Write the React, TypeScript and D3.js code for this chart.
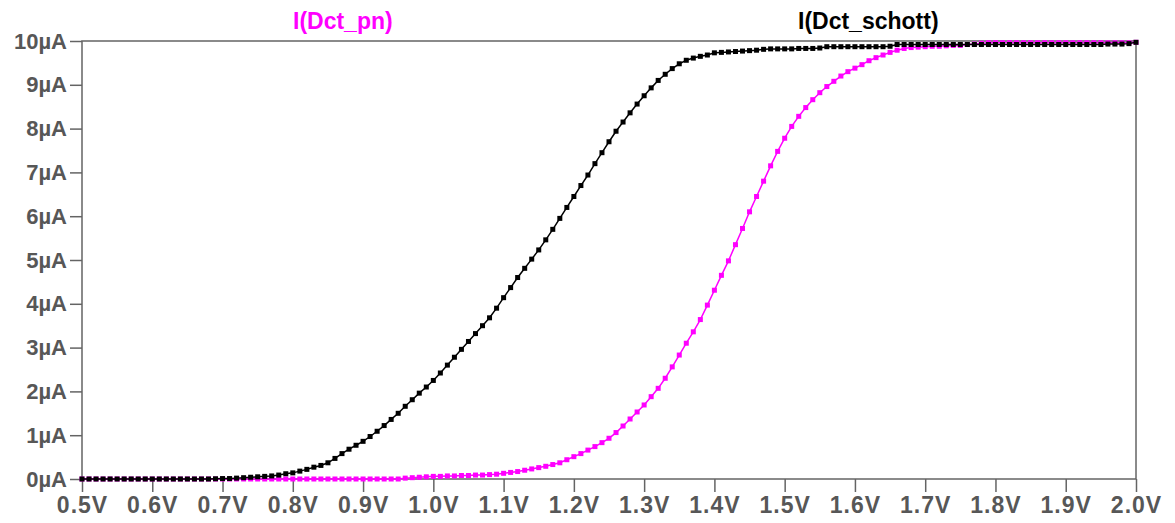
import React, { useEffect, useRef } from 'react';
import * as d3 from 'd3';

// sweep voltage (V)
const volts = [
  0.50, 0.51, 0.52, 0.53, 0.54, 0.55, 0.56, 0.57, 0.58, 0.59,
  0.60, 0.61, 0.62, 0.63, 0.64, 0.65, 0.66, 0.67, 0.68, 0.69,
  0.70, 0.71, 0.72, 0.73, 0.74, 0.75, 0.76, 0.77, 0.78, 0.79,
  0.80, 0.81, 0.82, 0.83, 0.84, 0.85, 0.86, 0.87, 0.88, 0.89,
  0.90, 0.91, 0.92, 0.93, 0.94, 0.95, 0.96, 0.97, 0.98, 0.99,
  1.00, 1.01, 1.02, 1.03, 1.04, 1.05, 1.06, 1.07, 1.08, 1.09,
  1.10, 1.11, 1.12, 1.13, 1.14, 1.15, 1.16, 1.17, 1.18, 1.19,
  1.20, 1.21, 1.22, 1.23, 1.24, 1.25, 1.26, 1.27, 1.28, 1.29,
  1.30, 1.31, 1.32, 1.33, 1.34, 1.35, 1.36, 1.37, 1.38, 1.39,
  1.40, 1.41, 1.42, 1.43, 1.44, 1.45, 1.46, 1.47, 1.48, 1.49,
  1.50, 1.51, 1.52, 1.53, 1.54, 1.55, 1.56, 1.57, 1.58, 1.59,
  1.60, 1.61, 1.62, 1.63, 1.64, 1.65, 1.66, 1.67, 1.68, 1.69,
  1.70, 1.71, 1.72, 1.73, 1.74, 1.75, 1.76, 1.77, 1.78, 1.79,
  1.80, 1.81, 1.82, 1.83, 1.84, 1.85, 1.86, 1.87, 1.88, 1.89,
  1.90, 1.91, 1.92, 1.93, 1.94, 1.95, 1.96, 1.97, 1.98, 1.99,
  2.00,
];

// I(Dct_schott) in µA
const schott = [
  0, 0, 0, 0, 0, 0, 0, 0, 0, 0,
  0, 0, 0, 0, 0, 0, 0, 0, 0, 0.005,
  0.01, 0.01, 0.02, 0.03, 0.04, 0.05, 0.06, 0.07, 0.09, 0.12,
  0.14, 0.18, 0.22, 0.27, 0.31, 0.37, 0.47, 0.58, 0.68, 0.77,
  0.86, 0.97, 1.09, 1.22, 1.36, 1.5, 1.66, 1.81, 1.96, 2.1,
  2.25, 2.42, 2.6, 2.78, 2.96, 3.14, 3.32, 3.5, 3.68, 3.9,
  4.14, 4.37, 4.6, 4.81, 5.02, 5.23, 5.46, 5.7, 5.95, 6.2,
  6.45, 6.7, 6.94, 7.2, 7.45, 7.7, 7.94, 8.15, 8.36, 8.56,
  8.75, 8.93, 9.1, 9.24, 9.37, 9.48, 9.56, 9.61, 9.65, 9.68,
  9.73, 9.74, 9.75, 9.76, 9.77, 9.78, 9.79, 9.81, 9.82, 9.82,
  9.82, 9.82, 9.83, 9.83, 9.83, 9.84, 9.87, 9.87, 9.87, 9.87,
  9.87, 9.87, 9.87, 9.87, 9.87, 9.88, 9.92, 9.92, 9.92, 9.92,
  9.92, 9.92, 9.92, 9.92, 9.92, 9.92, 9.92, 9.92, 9.92, 9.92,
  9.92, 9.92, 9.92, 9.92, 9.92, 9.92, 9.92, 9.92, 9.92, 9.92,
  9.92, 9.92, 9.92, 9.92, 9.92, 9.92, 9.93, 9.93, 9.93, 9.94,
  9.97,
];

// I(Dct_pn) in µA
const pn = [
  0, 0, 0, 0, 0, 0, 0, 0, 0, 0,
  0, 0, 0, 0, 0, 0, 0, 0, 0, 0,
  0, 0, 0, 0, 0, 0, 0, 0, 0, 0,
  0, 0, 0, 0, 0, 0, 0, 0, 0, 0,
  0, 0, 0, 0, 0, 0, 0.02, 0.03, 0.04, 0.05,
  0.06, 0.06, 0.07, 0.07, 0.08, 0.08, 0.09, 0.09, 0.1, 0.11,
  0.13, 0.15, 0.17, 0.2, 0.23, 0.26, 0.29, 0.33, 0.37, 0.44,
  0.51, 0.58, 0.66, 0.74, 0.83, 0.93, 1.06, 1.21, 1.37, 1.53,
  1.69, 1.88, 2.07, 2.3, 2.56, 2.83, 3.1, 3.36, 3.64, 3.97,
  4.31, 4.65, 4.98, 5.35, 5.72, 6.1, 6.45, 6.8, 7.15, 7.48,
  7.78, 8.05, 8.28, 8.48, 8.66, 8.82, 8.96, 9.08, 9.2, 9.3,
  9.38, 9.46, 9.55, 9.62, 9.68, 9.74, 9.79, 9.83, 9.85, 9.86,
  9.87, 9.88, 9.88, 9.89, 9.9, 9.9, 9.92, 9.93, 9.95, 9.96,
  9.96, 9.96, 9.96, 9.96, 9.96, 9.96, 9.96, 9.96, 9.96, 9.96,
  9.96, 9.96, 9.96, 9.96, 9.96, 9.96, 9.96, 9.96, 9.96, 9.96,
  9.97,
];

const xTicks = [0.5, 0.6, 0.7, 0.8, 0.9, 1.0, 1.1, 1.2, 1.3, 1.4, 1.5, 1.6, 1.7, 1.8, 1.9, 2.0];
const yTicks = [0, 1, 2, 3, 4, 5, 6, 7, 8, 9, 10];

const seriesNames = ['I(Dct_pn)', 'I(Dct_schott)'];
const seriesColors = ['#ff00ff', '#000000'];

const W = 1175;
const H = 523;

const App = () => {
  const ref = useRef<SVGSVGElement>(null);

  useEffect(() => {
    const svg = d3.select(ref.current);
    svg.selectAll('*').remove();

    const margin = { top: 41, right: 39, bottom: 44, left: 82 };
    const font = '"Liberation Sans", Arial, sans-serif';

    const x = d3.scaleLinear()
      .domain([0.5, 2.0])
      .range([margin.left, W - margin.right]);

    const y = d3.scaleLinear()
      .domain([0, 10])
      .range([H - margin.bottom, margin.top]);

    // frame
    svg.append('rect')
      .attr('x', x(0.5))
      .attr('y', y(10))
      .attr('width', x(2.0) - x(0.5))
      .attr('height', y(0) - y(10))
      .attr('fill', 'none')
      .attr('stroke', '#646464')
      .attr('stroke-width', 1.5);

    const xAxis = svg.append('g')
      .attr('transform', `translate(0,${y(0)})`)
      .call(d3.axisBottom(x).tickValues(xTicks).tickSize(13).tickPadding(5)
        .tickFormat(d => (d as number).toFixed(1) + 'V'));

    const yAxis = svg.append('g')
      .attr('transform', `translate(${x(0.5)},0)`)
      .call(d3.axisLeft(y).tickValues(yTicks).tickSize(12).tickPadding(3)
        .tickFormat(d => d + 'µA'));

    [xAxis, yAxis].forEach(g => {
      g.select('.domain').remove();
      g.selectAll('line').attr('stroke', '#646464').attr('stroke-width', 1.5);
      g.selectAll('text')
        .attr('fill', '#575757')
        .style('font-family', font)
        .style('font-weight', 'bold')
        .style('font-size', '22px');
    });
    xAxis.selectAll('text')
      .style('font-size', '23px')
      .style('letter-spacing', '1px');

    const line = d3.line<number>()
      .x((_, i) => x(volts[i]))
      .y(d => y(d));

    // pn first, schottky drawn over it
    [pn, schott].forEach((vals, k) => {
      const g = svg.append('g');
      g.append('path')
        .datum(vals)
        .attr('fill', 'none')
        .attr('stroke', seriesColors[k])
        .attr('stroke-width', 1.5)
        .attr('d', line);
      g.selectAll('rect')
        .data(vals)
        .join('rect')
        .attr('x', (_, i) => x(volts[i]) - 2.5)
        .attr('y', d => y(d) - 2.5)
        .attr('width', 5)
        .attr('height', 5)
        .attr('fill', seriesColors[k]);
    });

    // trace labels
    const labelX = [293, 798];
    seriesNames.forEach((name, k) => {
      svg.append('text')
        .attr('x', labelX[k])
        .attr('y', 29)
        .attr('fill', seriesColors[k])
        .style('font-family', font)
        .style('font-weight', 'bold')
        .style('font-size', '23px')
        .text(name);
    });
  }, []);

  return (
    <svg
      ref={ref}
      width={W}
      height={H}
      style={{ position: 'absolute', left: 0, top: 0, background: '#fff' }}
    ></svg>
  );
};

export default App;
